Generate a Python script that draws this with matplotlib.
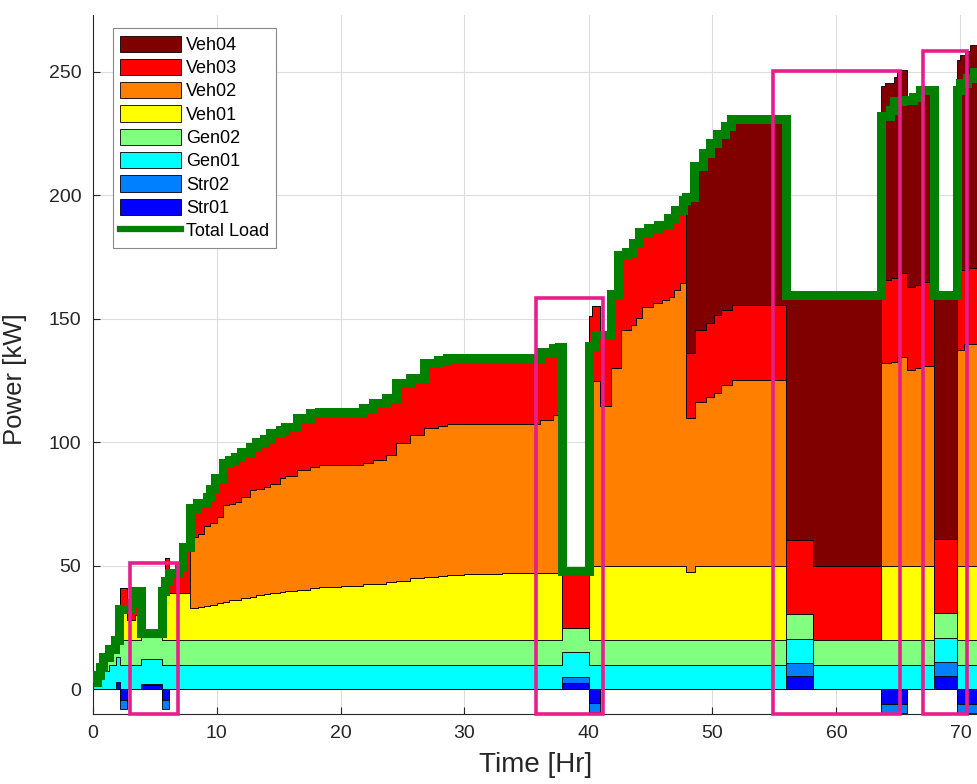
import numpy as np
import matplotlib
matplotlib.use('Agg')
import matplotlib.pyplot as plt
from matplotlib.patches import Patch, Rectangle
from matplotlib.lines import Line2D

plt.rcParams['font.family'] = ['Liberation Sans', 'DejaVu Sans']

# Step-wise power profiles: breakpoint hours and the kW held until the next breakpoint.
# Storage is negative while charging.
str01_t = [0, 1.9, 2.2, 2.8, 3.9, 5.6, 6.2, 37.9, 40.0, 40.9, 55.9, 58.1, 63.6, 65.7, 67.9, 69.7]
str01_kw = [0, 3, -4.3, 0, 1.6, -4.3, 0, 2.5, -5.5, 0, 5.5, 0, -6, 0, 5.5, -6]

str02_t = [0, 2.2, 2.8, 3.9, 5.6, 6.2, 37.9, 40.0, 40.9, 55.9, 58.1, 63.6, 65.7, 67.9, 69.7]
str02_kw = [0, -3.8, 0, 0.7, -3.8, 0, 2.5, -3.8, 0, 5, 0, -3.5, 0, 5.4, -3.5]

gen01_t = [0, 0.35, 0.85, 1.3]
gen01_kw = [1.5, 4, 7.5, 10]

gen02_t = [0, 0.35, 0.6, 0.85, 1.3, 1.8, 2.1]
gen02_kw = [1.5, 1.7, 5, 5.5, 6.5, 9.8, 10]

veh01_t = [0, 2.2, 2.8, 3.4, 3.9, 5.6, 6.2, 7.9, 8.5, 9.0, 9.5, 10.0, 10.5, 11.0, 11.5,
           12.0, 12.7, 13.2, 13.8, 14.3, 15.1, 15.5, 16.5, 17.5, 18.3, 20.0, 21.8, 22.6,
           23.7, 24.5, 25.6, 26.7, 27.9, 28.6, 30.0, 33.0, 37.9, 40.0, 47.9, 48.6, 55.9,
           63.6, 67.9, 69.7]
veh01_kw = [0, 14, 8, 10, 0.5, 18, 19, 13, 13.3, 13.6, 14, 15, 15.5, 16, 16.3,
            17, 17.5, 18, 18.5, 19, 19.5, 20, 20.4, 21, 21.5, 22, 22.5, 22.8,
            23.5, 24, 25, 25.5, 26, 26.3, 26.6, 27, 0, 30, 27.5, 30, 0,
            30, 0, 30]

veh02_t = [0, 7.9, 8.5, 9.0, 9.5, 10.0, 10.5, 11.0, 11.5, 12.0, 12.7, 13.2, 13.8, 14.3,
           15.1, 15.5, 16.5, 17.5, 18.3, 20.0, 21.8, 22.6, 23.7, 24.5, 25.6, 26.7, 27.9,
           28.6, 30.0, 33.0, 36.1, 37.1, 37.9, 40.0, 40.3, 40.9, 41.85, 42.6, 43.4, 43.8,
           44.3, 45.2, 45.9, 46.5, 46.9, 47.4, 47.9, 48.6, 49.5, 50.1, 50.7, 51.6, 55.9,
           63.6, 64.4, 64.85, 65.7, 66.3, 66.9, 67.9, 69.7, 70.3]
veh02_kw = [0, 28.6, 29.7, 32.4, 33.5, 34.7, 39, 39, 39.5, 41, 43.1, 43, 43.3, 44,
            46, 46.5, 48.3, 49, 49.3, 49, 49.1, 50, 51.3, 55.7, 58, 60.2, 60.5,
            61.1, 60.8, 60.4, 62, 64, 0, 71, 75, 64.8, 80, 95.3, 97.4, 100.2,
            104.9, 106.4, 107.6, 108.8, 111.7, 114.5, 62.3, 66.5, 68.5, 70, 73.3, 75.3, 0,
            82, 82.6, 84.6, 79.2, 80, 80.9, 0, 87.4, 90]

veh03_t = [0, 2.2, 2.8, 3.4, 3.9, 5.6, 5.85, 6.2, 7.0, 7.3, 7.9, 8.5, 9.0, 9.5, 10.0,
           10.5, 11.0, 11.5, 12.0, 12.7, 13.2, 13.8, 14.3, 15.1, 15.5, 16.5, 17.5, 18.3,
           20.0, 21.8, 22.6, 23.7, 24.5, 25.6, 26.7, 27.9, 28.6, 36.1, 37.1, 37.6, 37.9,
           40.0, 40.9, 41.85, 42.4, 42.6, 43.0, 43.4, 43.6, 43.8, 44.1, 44.3, 44.8, 45.2,
           45.6, 45.9, 46.4, 46.5, 46.9, 47.0, 47.4, 47.6, 47.9, 48.6, 49.5, 50.1, 50.7,
           55.9, 63.6, 65.7, 67.9, 69.7, 70.0, 70.3, 70.7]
veh03_kw = [0, 7, 7, 10, 0, 3.5, 15, 8, 11, 18.7, 11.7, 12.6, 11.8, 13.5, 15.8,
            17.1, 18, 18.2, 18, 17.4, 19, 19.7, 20.7, 19.5, 19.5, 21.3, 21.8, 21.4,
            21.2, 22.3, 23.2, 23.2, 24.3, 23, 26.3, 26.8, 26.6, 27.5, 27, 27.6, 23,
            30, 28.5, 30, 45.8, 30.5, 31.7, 29.6, 33.2, 30.4, 34.8, 30.1, 31.7, 30.2,
            31.6, 30.4, 33.1, 31.9, 29, 32.3, 29.5, 33.5, 26.2, 29, 29.8, 31.5, 30.3,
            30, 33.8, 33.8, 30, 30.3, 32.4, 29.8, 30.5]

veh04_t = [0, 47.9, 48.5, 48.6, 49.2, 49.5, 49.8, 50.1, 50.4, 50.7, 51.0, 51.5, 51.6,
           55.9, 58.1, 63.6, 63.9, 64.4, 64.6, 64.85, 65.7, 66.2, 66.3, 66.7, 66.9, 67.9,
           69.7, 70.0, 70.4, 70.7, 70.8]
veh04_kw = [0, 63.5, 76, 66.5, 71.5, 68.7, 72.7, 69.5, 73.5, 71.4, 74.4, 77.4, 75.4,
            99, 109.5, 78.3, 79.7, 78.9, 81.5, 82.3, 75.7, 77, 76.3, 79, 78.1, 98.6,
            86.9, 87.1, 88.7, 88, 90.5]

load_t = [0, 0.35, 0.6, 0.85, 1.3, 1.8, 2.1, 3.1, 3.4, 3.95, 5.6, 5.85, 6.2, 7.0, 7.3,
          7.9, 8.4, 9.2, 9.5, 9.9, 10.5, 11.0, 11.5, 12.0, 12.7, 13.2, 13.8, 14.3, 15.1,
          15.5, 16.5, 17.5, 18.3, 21.8, 22.6, 23.7, 24.5, 25.6, 26.7, 27.9, 28.6, 36.1,
          37.1, 37.6, 37.9, 40.0, 40.5, 41.85, 42.4, 43.0, 43.6, 44.1, 44.8, 45.6, 46.4,
          47.0, 47.6, 47.9, 48.5, 49.2, 49.8, 50.4, 51.0, 51.5, 55.9, 63.6, 64.3, 64.6,
          65.3, 66.2, 66.7, 67.9, 69.7, 70.0, 70.5, 71.1]
load_kw = [3, 5.7, 9, 13, 16.5, 19.8, 32.7, 35, 40, 22.7, 40, 44, 47, 50, 57.7,
           73.3, 75.6, 77.8, 81, 85.5, 91.6, 93, 94, 96, 98, 100, 101.5, 103.7, 105,
           106, 110, 111.8, 112.2, 113.9, 116, 118, 124, 126, 132, 133.3, 134, 136.5,
           138, 138.6, 48, 139, 143.3, 160, 175.8, 177, 180.6, 185, 186.6, 188, 190.7,
           194, 198, 199.5, 212, 217, 221, 225, 228, 231, 159.5, 232, 234.6, 238,
           238.7, 240, 242.7, 159.5, 242.7, 245.5, 247.4, 250]

# highlighted windows: (start hr, end hr, top kW)
boxes = [(3.0, 6.9, 51), (35.8, 41.2, 158.5), (54.85, 65.1, 250.5), (67.0, 70.55, 258.3)]

t_end = 72.0

names = ['Str01', 'Str02', 'Gen01', 'Gen02', 'Veh01', 'Veh02', 'Veh03', 'Veh04']
colors = ['#0000FF', '#0080FF', '#00FFFF', '#80FF80', '#FFFF00', '#FF8000', '#FF0000', '#800000']
series = [(str01_t, str01_kw), (str02_t, str02_kw), (gen01_t, gen01_kw), (gen02_t, gen02_kw),
          (veh01_t, veh01_kw), (veh02_t, veh02_kw), (veh03_t, veh03_kw), (veh04_t, veh04_kw)]


def on_grid(t, v, grid):
    idx = np.searchsorted(np.asarray(t), grid, side='right') - 1
    return np.asarray(v, float)[np.clip(idx, 0, None)]


grid = np.unique(np.concatenate([np.asarray(t, float) for t, _ in series] + [[t_end]]))
vals = [on_grid(t, v, grid) for t, v in series]

fig = plt.figure(figsize=(9.78, 7.84), dpi=100)
ax = fig.add_axes([92.5 / 978, 70 / 784, (978 - 92.5) / 978, 699 / 784])

edge = dict(edgecolor='k', linewidth=0.6, step='post')

# positive stack (storage discharging, generators, vehicles)
base = np.zeros_like(grid)
for v, c in zip(vals, colors):
    part = np.maximum(v, 0)
    ax.fill_between(grid, base, base + part, facecolor=c, zorder=2, **edge)
    base = base + part

# storage charging below zero
base = np.zeros_like(grid)
for v, c in zip(vals[:2], colors[:2]):
    part = np.minimum(v, 0)
    ax.fill_between(grid, base + part, base, facecolor=c, zorder=2, **edge)
    base = base + part

ax.step(np.append(load_t, t_end), np.append(load_kw, load_kw[-1]), where='post',
        color='#008000', linewidth=6.5, zorder=3,
        solid_joinstyle='miter', solid_capstyle='butt')

for x0, x1, top in boxes:
    ax.add_patch(Rectangle((x0, -10), x1 - x0, top + 10, fill=False, edgecolor='#E91E8C',
                           linewidth=2.6, zorder=5, clip_on=False))

ax.set_xlim(0, (978 - 92.5) / 12.4)
ax.set_ylim(-10, 273)
ax.set_xticks(np.arange(0, 71, 10))
ax.set_yticks(np.arange(0, 251, 50))
ax.grid(True, color='#DDDDDD', linewidth=0.8)
ax.set_axisbelow(True)
ax.tick_params(direction='in', length=5, width=0.8, colors='#262626', labelsize=14, pad=8)
for s in ['top', 'right']:
    ax.spines[s].set_visible(False)
for s in ['left', 'bottom']:
    ax.spines[s].set_color('#262626')
    ax.spines[s].set_linewidth(0.8)

ax.set_xlabel('Time [Hr]', fontsize=20, color='#262626')
ax.xaxis.set_label_coords(0.5, -0.054)
ax.set_ylabel('Power [kW]', fontsize=18.5, color='#262626')
ax.yaxis.set_label_coords(-0.074, 0.479)

handles = [Patch(facecolor=c, edgecolor='k', linewidth=0.6) for c in colors[::-1]]
handles.append(Line2D([], [], color='#008000', linewidth=4.5))
labels = names[::-1] + ['Total Load']
leg = ax.legend(handles, labels, loc='upper left', bbox_to_anchor=(0.023, 0.981),
                fontsize=13, handlelength=3.4, handleheight=1.0, labelspacing=0.28,
                handletextpad=0.25, borderpad=0.4, borderaxespad=0, fancybox=False,
                framealpha=1, edgecolor='#888888')
leg.get_frame().set_linewidth(0.8)
leg.set_zorder(6)

fig.savefig('out.png', dpi=100)
